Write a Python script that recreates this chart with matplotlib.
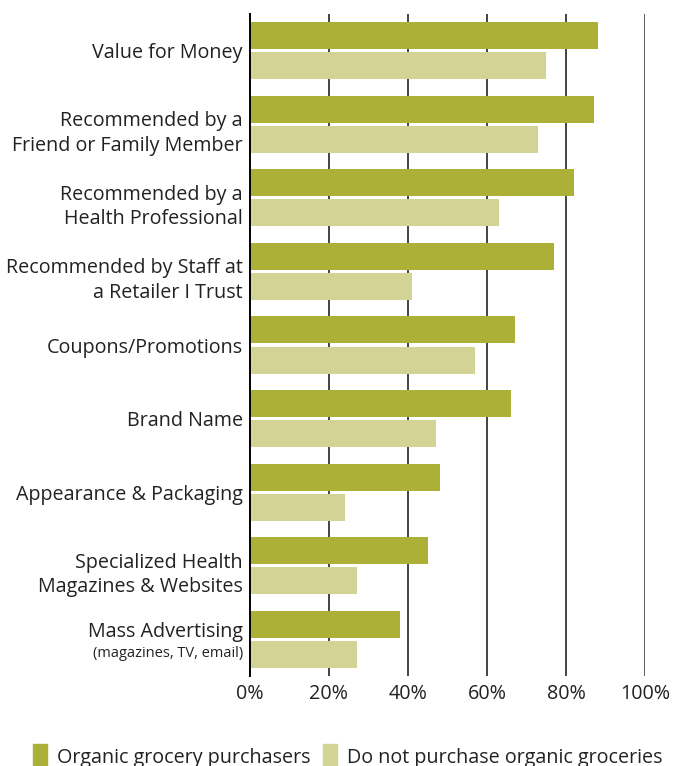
import matplotlib.pyplot as plt
import numpy as np
from matplotlib.patches import Patch

plt.rcParams['font.family'] = ['Open Sans', 'DejaVu Sans']

categories = [
    'Value for Money',
    'Recommended by a\nFriend or Family Member',
    'Recommended by a\nHealth Professional',
    'Recommended by Staff at\na Retailer I Trust',
    'Coupons/Promotions',
    'Brand Name',
    'Appearance & Packaging',
    'Specialized Health\nMagazines & Websites',
    'Mass Advertising',
]
sub_label = '(magazines, TV, email)'
purchasers = [88, 87, 82, 77, 67, 66, 48, 45, 38]
non_purchasers = [75, 73, 63, 41, 57, 47, 24, 27, 27]
series_names = ['Organic grocery purchasers', 'Do not purchase organic groceries']
xticks = [0, 20, 40, 60, 80, 100]

DARK = '#adb036'
LIGHT = '#d3d396'
TEXT = '#222222'
FS = 14.2

fig = plt.figure(figsize=(6.75, 7.66), dpi=100)
ax = fig.add_axes([250 / 675, 1 - 676 / 766, 395 / 675, 662 / 766])

y = np.arange(len(categories))
h = 0.367
off = 0.204
ax.barh(y - off, purchasers, height=h, color=DARK, zorder=3)
ax.barh(y + off, non_purchasers, height=h, color=LIGHT, zorder=3)

ax.set_xlim(0, 100)
ax.set_ylim(len(categories) - 0.5, -0.5)

# vertical gridlines, the 100% one a bit lighter
for v in xticks[1:-1]:
    ax.axvline(v, color='#111111', lw=1.1, zorder=1)
ax.axvline(100, color='#5e5e5e', lw=1.4, zorder=1)

for s in ['top', 'right', 'bottom']:
    ax.spines[s].set_visible(False)
ax.spines['left'].set_color('black')
ax.spines['left'].set_linewidth(1.4)
ax.spines['left'].set_zorder(4)

ax.set_xticks(xticks)
ax.set_xticklabels([f'{v}%' for v in xticks], fontsize=FS, color=TEXT)
ax.tick_params(axis='x', length=0, pad=6)
ax.set_yticks([])

# category labels as plain text so two-line ones can sit a little lower
for i, lab in enumerate(categories[:-1]):
    dy = 0.06 if '\n' in lab else 0.0
    ax.text(-1.8, i + dy, lab, ha='right', va='center_baseline',
            fontsize=FS, color=TEXT, linespacing=1.3)

# last category gets a main line plus a smaller note underneath
last = len(categories) - 1
ax.text(-1.8, last - 0.1, categories[-1], ha='right', va='center',
        fontsize=FS, color=TEXT)
ax.text(-1.8, last + 0.19, sub_label, ha='right', va='center',
        fontsize=10.5, color=TEXT)

handles = [Patch(color=DARK), Patch(color=LIGHT)]
fig.legend(handles, series_names, loc='center', ncol=2, frameon=False,
           bbox_to_anchor=(0.515, 1 - 756 / 766), fontsize=FS,
           handlelength=0.75, handleheight=1.5, handletextpad=0.5,
           columnspacing=0.6, labelcolor=TEXT)

fig.savefig('out.png', dpi=100)
